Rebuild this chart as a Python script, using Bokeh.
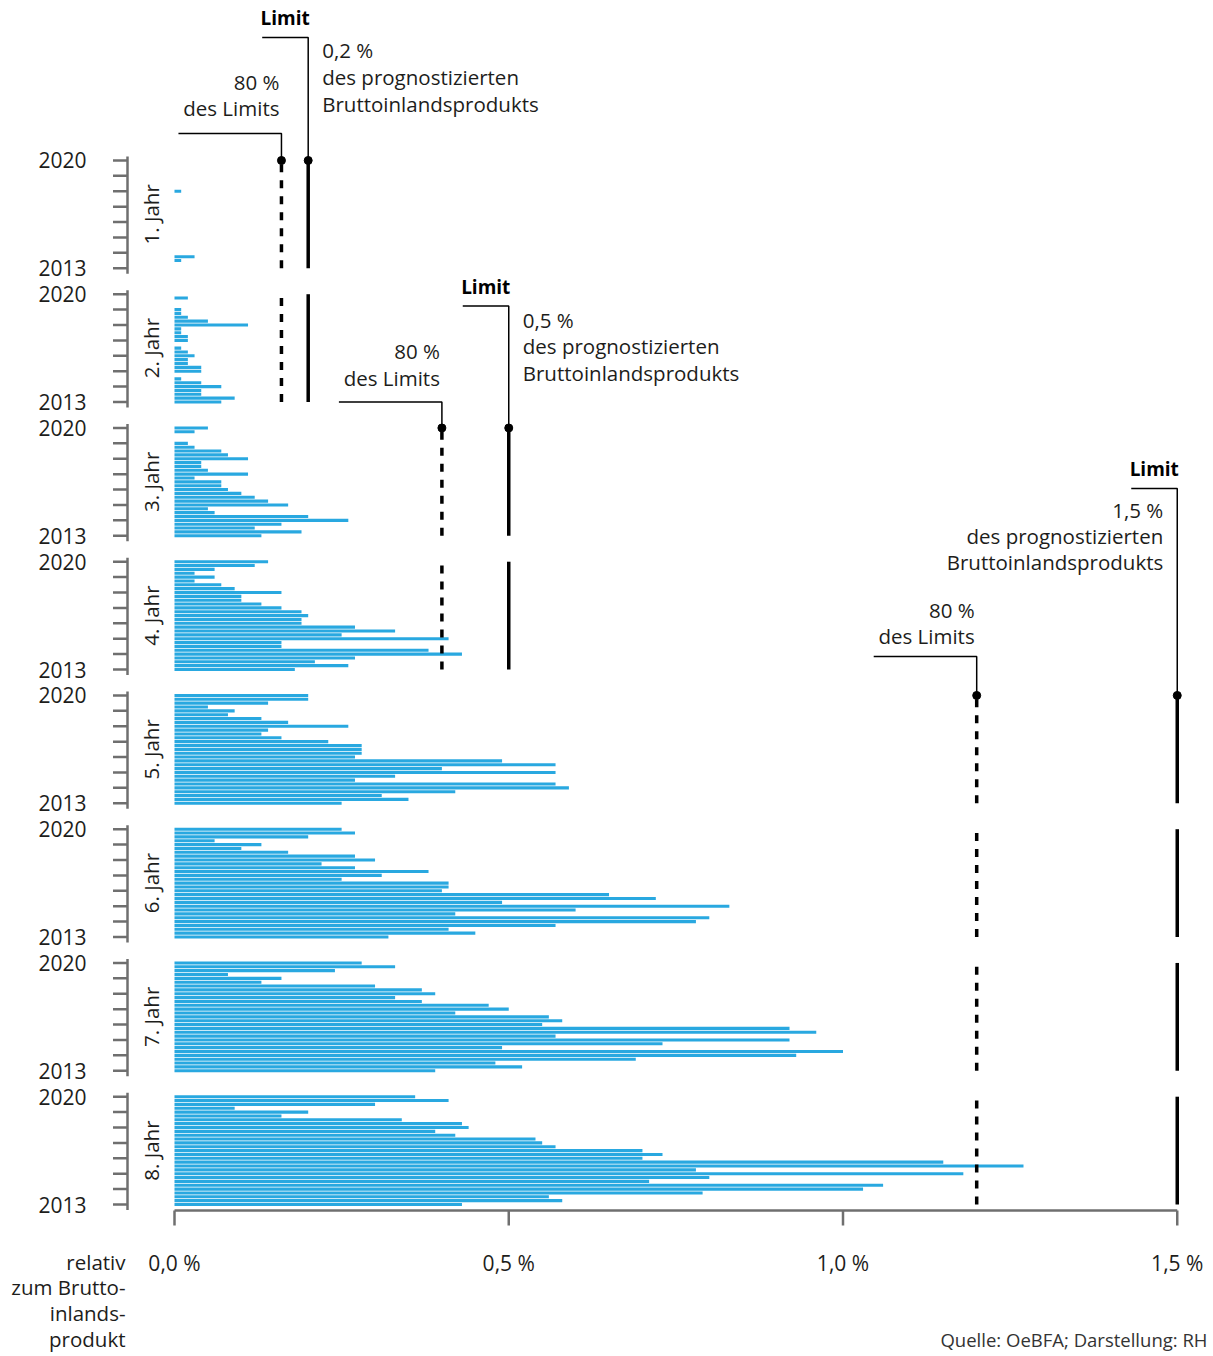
import math
from bokeh.plotting import figure
from bokeh.models import Range1d
from bokeh.core.properties import value
from bokeh.embed import file_html
from bokeh.resources import INLINE

# ---------------- data ----------------
years = [2013, 2014, 2015, 2016, 2017, 2018, 2019, 2020]
labelled_years = [2013, 2020]
panel_labels = ["1. Jahr", "2. Jahr", "3. Jahr", "4. Jahr",
                "5. Jahr", "6. Jahr", "7. Jahr", "8. Jahr"]

# quarterly values in % of GDP, ordered 2020 Q1 (top) ... 2013 Q1 (bottom)
jahr_1 = [0, 0, 0, 0, 0, 0, 0, 0, 0.01, 0, 0, 0, 0, 0, 0, 0, 0, 0, 0, 0,
          0, 0, 0, 0, 0, 0.03, 0.01, 0, 0]
jahr_2 = [0, 0.02, 0, 0, 0.01, 0.01, 0.02, 0.05, 0.11, 0.01, 0.01, 0.02, 0.02, 0,
          0.01, 0.02, 0.03, 0.02, 0.02, 0.04, 0.04, 0, 0.01, 0.04, 0.07, 0.04,
          0.04, 0.09, 0.07]
jahr_3 = [0.05, 0.03, 0, 0, 0.02, 0.03, 0.07, 0.08, 0.11, 0.04, 0.04, 0.05, 0.11,
          0.03, 0.07, 0.07, 0.08, 0.10, 0.12, 0.14, 0.17, 0.05, 0.06, 0.20, 0.26,
          0.16, 0.12, 0.19, 0.13]
jahr_4 = [0.14, 0.12, 0.06, 0.03, 0.06, 0.03, 0.07, 0.09, 0.16, 0.10, 0.10, 0.13,
          0.16, 0.19, 0.20, 0.19, 0.19, 0.27, 0.33, 0.25, 0.41, 0.16, 0.16, 0.38,
          0.43, 0.27, 0.21, 0.26, 0.18]
jahr_5 = [0.20, 0.20, 0.14, 0.05, 0.09, 0.08, 0.13, 0.17, 0.26, 0.14, 0.13, 0.16,
          0.23, 0.28, 0.28, 0.28, 0.27, 0.49, 0.57, 0.40, 0.57, 0.33, 0.27, 0.57,
          0.59, 0.42, 0.31, 0.35, 0.25]
jahr_6 = [0.25, 0.27, 0.20, 0.06, 0.13, 0.10, 0.17, 0.27, 0.30, 0.22, 0.27, 0.38,
          0.31, 0.25, 0.41, 0.41, 0.40, 0.65, 0.72, 0.49, 0.83, 0.60, 0.42, 0.80,
          0.78, 0.57, 0.41, 0.45, 0.32]
jahr_7 = [0.28, 0.33, 0.24, 0.08, 0.16, 0.13, 0.30, 0.37, 0.39, 0.33, 0.37, 0.47,
          0.50, 0.42, 0.56, 0.58, 0.55, 0.92, 0.96, 0.57, 0.92, 0.73, 0.49, 1.00,
          0.93, 0.69, 0.48, 0.52, 0.39]
jahr_8 = [0.36, 0.41, 0.30, 0.09, 0.20, 0.16, 0.34, 0.43, 0.44, 0.39, 0.42, 0.54,
          0.55, 0.57, 0.70, 0.73, 0.70, 1.15, 1.27, 0.78, 1.18, 0.80, 0.71, 1.06,
          1.03, 0.79, 0.56, 0.58, 0.43]
series = [jahr_1, jahr_2, jahr_3, jahr_4, jahr_5, jahr_6, jahr_7, jahr_8]

limits = [0.2, 0.5, 1.5]
limit_labels = ["0,2 %", "0,5 %", "1,5 %"]
limit_panels = [(1, 2), (3, 4), (5, 8)]
warn_share = 0.8
limit_title = "Limit"
limit_desc = ["des prognostizierten", "Bruttoinlandsprodukts"]
warn_text = ["80 %", "des Limits"]

x_ticks = [0.0, 0.5, 1.0, 1.5]
x_tick_labels = ["0,0 %", "0,5 %", "1,0 %", "1,5 %"]
x_title = ["relativ", "zum Brutto-", "inlands-", "produkt"]
source = "Quelle: OeBFA; Darstellung: RH"

# ---------------- layout ----------------
W, H = 1212, 1355
KX = 668.5          # px per 1 %
KY = 15.4           # px per year
X0_PAGE, Y0_PAGE = 174, 1204   # page px of (0 %, 2013 of last panel)
S = 8.685           # panel spacing in year units
ORIGIN = 0          # page offset of the canvas

def X(px):
    return (px - X0_PAGE) / KX

def Y(py):
    return (Y0_PAGE - py) / KY

def dx(n):
    return n / KX

def dy(n):
    return n / KY

def base(k):
    return (8 - k) * S

FONT = value("Open Sans")
TXT = "#1d1d1b"
GREY = "#6f6f6f"
BLUE = "#29a8e0"
FS = "20.5px"
FS_NUM = "21px"

p = figure(width=W, height=H, output_backend="svg", toolbar_location=None,
           x_range=Range1d(X(ORIGIN), X(ORIGIN + W)),
           y_range=Range1d(Y(ORIGIN + H), Y(ORIGIN)),
           min_border=0, x_axis_location=None, y_axis_location=None)
p.outline_line_color = None
p.background_fill_color = "white"
p.border_fill_color = "white"
for g in p.grid:
    g.visible = False

span = years[-1] - years[0]

# bars
bx, by = [], []
for k, vals in enumerate(series, start=1):
    n = len(vals)
    for i, v in enumerate(vals):
        if v > 0:
            bx.append(v)
            by.append(base(k) + (n - 1 - i) / 4)
p.hbar(y=by, left=0, right=bx, height=dy(3.1), fill_color=BLUE, line_color=None)

# per-panel year axes
for k in range(1, 9):
    b = base(k)
    p.segment(x0=[X(127)], y0=[b - dy(5.5)], x1=[X(127)], y1=[b + span + dy(4)],
              line_color=GREY, line_width=2.5)
    ys = [b + (yr - years[0]) for yr in years]
    p.segment(x0=[X(112.5)] * len(ys), y0=ys, x1=[X(127)] * len(ys), y1=ys,
              line_color=GREY, line_width=2.5)
    p.text(x=[X(86)] * 2, y=[b + (yr - years[0]) for yr in labelled_years],
           text=[str(yr) for yr in labelled_years], text_font=FONT,
           text_font_size=FS_NUM, text_align="right", text_baseline="middle",
           text_color=TXT)
    p.text(x=[X(150)], y=[b + span / 2], text=[panel_labels[k - 1]], angle=math.pi / 2,
           text_font=FONT, text_font_size=FS, text_align="center",
           text_baseline="middle", text_color=TXT)

# limit lines
group_cfg = [
    dict(rise=123, wrise=27, side="right", desc_off=[13, 40, 67], wtxt=[-51, -25]),
    dict(rise=122, wrise=26, side="right", desc_off=[14, 40, 67], wtxt=[-51, -24]),
    dict(rise=207, wrise=39, side="left", desc_off=[22, 48, 74], wtxt=[-46, -20]),
]
for L, lab, (k1, k2), cfg in zip(limits, limit_labels, limit_panels, group_cfg):
    w = L * warn_share
    ks = list(range(k1, k2 + 1))
    p.segment(x0=[L] * len(ks), y0=[base(k) for k in ks], x1=[L] * len(ks),
              y1=[base(k) + span for k in ks], line_color="black", line_width=3.5)
    p.segment(x0=[w] * len(ks), y0=[base(k) for k in ks], x1=[w] * len(ks),
              y1=[base(k) + span for k in ks], line_color="black", line_width=3.5,
              line_dash="8 8")
    ytop = base(k1) + span
    p.scatter(x=[L, w], y=[ytop, ytop], size=8, color="black")
    # leader lines
    yl = ytop + dy(cfg["rise"])
    p.line(x=[L - dx(46), L, L], y=[yl, yl, ytop], line_color="black", line_width=1.5)
    yw = ytop + dy(cfg["wrise"])
    p.line(x=[w - dx(103), w, w], y=[yw, yw, ytop], line_color="black", line_width=1.5)
    p.text(x=[L - dx(23)], y=[yl + dy(19)], text=[limit_title], text_font=FONT,
           text_font_size="19px", text_font_style="bold", text_align="center",
           text_baseline="middle", text_color="black")
    lines = [lab] + limit_desc
    if cfg["side"] == "right":
        tx, al = L + dx(14), "left"
    else:
        tx, al = L - dx(14), "right"
    p.text(x=[tx] * 3, y=[yl - dy(o) for o in cfg["desc_off"]], text=lines,
           text_font=FONT, text_font_size=FS, text_align=al,
           text_baseline="middle", text_color=TXT)
    p.text(x=[w - dx(2)] * 2, y=[yw - dy(o) for o in cfg["wtxt"]], text=warn_text,
           text_font=FONT, text_font_size=FS, text_align="right",
           text_baseline="middle", text_color=TXT)

# x axis
y_ax = Y(1210)
p.segment(x0=[x_ticks[0]], y0=[y_ax], x1=[x_ticks[-1]], y1=[y_ax],
          line_color=GREY, line_width=2.5)
p.segment(x0=x_ticks, y0=[y_ax] * 4, x1=x_ticks, y1=[y_ax - dy(15)] * 4,
          line_color=GREY, line_width=2.5)
p.text(x=x_ticks, y=[Y(1262)] * 4, text=x_tick_labels, text_font=FONT,
       text_font_size=FS_NUM, text_align="center", text_baseline="middle",
       text_color=TXT)
p.text(x=[X(125)] * 4, y=[Y(1261 + 25.7 * i) for i in range(4)], text=x_title,
       text_font=FONT, text_font_size=FS, text_align="right",
       text_baseline="middle", text_color=TXT)
p.text(x=[X(1207)], y=[Y(1339)], text=[source], text_font=FONT,
       text_font_size="18.5px", text_align="right", text_baseline="middle",
       text_color="#333333")

open("out.html", "w").write(file_html(p, INLINE))
